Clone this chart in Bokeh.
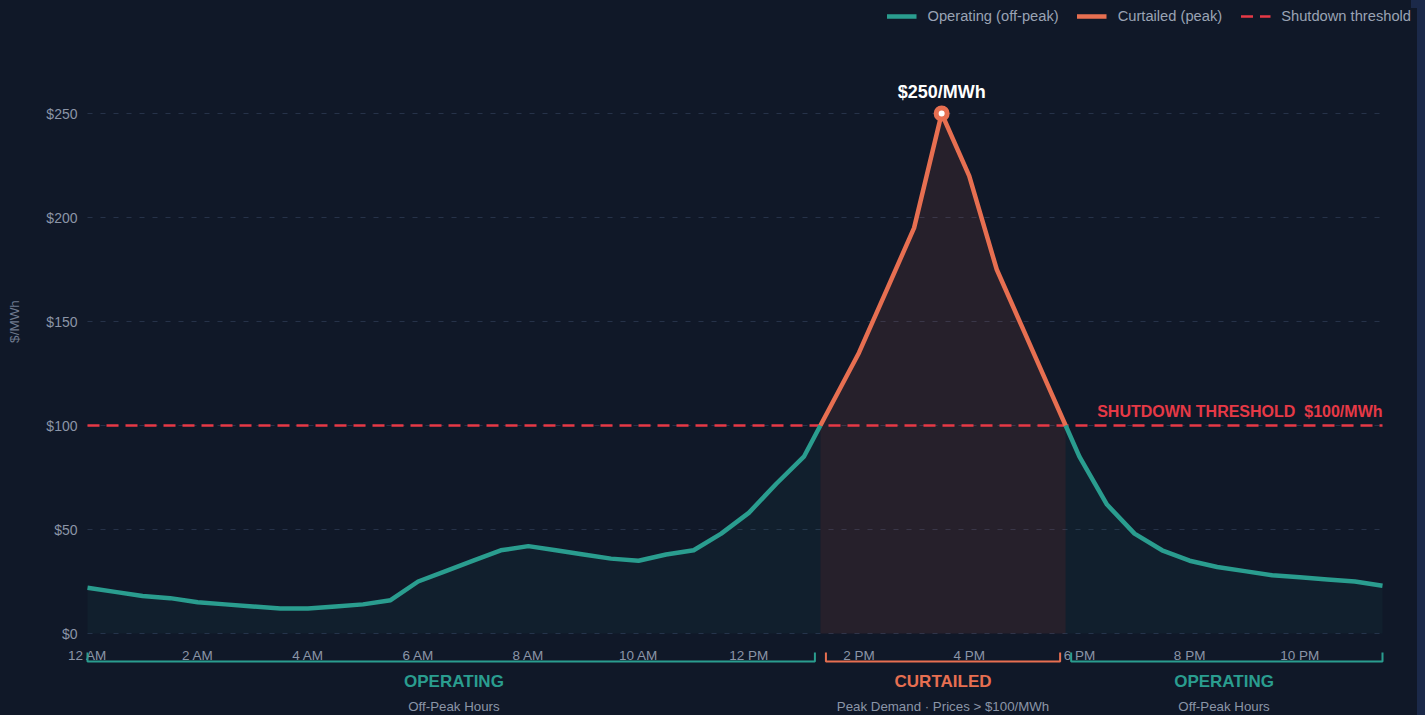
import math
from bokeh.plotting import figure
from bokeh.models import Legend, LegendItem, Range1d
from bokeh.embed import file_html
from bokeh.resources import INLINE
from bokeh.core.properties import value

# ---------------- data ----------------
hours = [h / 2 for h in range(48)]
prices = [22, 20, 18, 17, 15, 14, 13, 12, 12, 13, 14, 16,
          25, 30, 35, 40, 42, 40, 38, 36, 35, 38, 40, 48,
          58, 72, 85, 110, 135, 165, 195, 250, 220, 175, 145, 115,
          85, 62, 48, 40, 35, 32, 30, 28, 27, 26, 25, 23]
threshold = 100
y_ticks = [0, 50, 100, 150, 200, 250]
y_tick_labels = ["$0", "$50", "$100", "$150", "$200", "$250"]
x_tick_hours = [0, 2, 4, 6, 8, 10, 12, 14, 16, 18, 20, 22]
x_tick_labels = ["12 AM", "2 AM", "4 AM", "6 AM", "8 AM", "10 AM",
                 "12 PM", "2 PM", "4 PM", "6 PM", "8 PM", "10 PM"]
y_title = "$/MWh"
legend_labels = ["Operating (off-peak)", "Curtailed (peak)", "Shutdown threshold"]
peak_label = "$250/MWh"
threshold_label = "SHUTDOWN THRESHOLD\u00a0 $100/MWh"
zone_titles = {False: "OPERATING", True: "CURTAILED"}
zone_subtitles = {False: "Off-Peak Hours", True: "Peak Demand \u00b7 Prices > $100/MWh"}

# ---------------- style ----------------
BG = "#101828"
TEAL = "#2a9d8f"
ORANGE = "#e76f51"
RED = "#e63946"
GRID = "#263249"
TICK = "#8b95a7"
FONT = "Liberation Sans"

W, H = 1403, 707
px_per_hour = 1295 / 23.5     # horizontal scale
px_per_usd = 2.08             # vertical scale
x_start = -79 / px_per_hour
x_end = x_start + W / px_per_hour
y_start = -82 / px_per_usd
y_end = y_start + H / px_per_usd

p = figure(width=W, height=H, output_backend="svg", toolbar_location=None,
           x_range=Range1d(x_start, x_end), y_range=Range1d(y_start, y_end),
           x_axis_type=None, y_axis_type=None,
           background_fill_color=BG, border_fill_color=BG,
           outline_line_color=None, min_border_left=0, min_border_right=0,
           min_border_top=0, min_border_bottom=0)
p.grid.visible = False

# gridlines
p.segment(x0=[hours[0]] * len(y_ticks), x1=[hours[-1]] * len(y_ticks),
          y0=y_ticks, y1=y_ticks, line_color=GRID, line_width=1, line_dash="5 8")

# y tick labels
p.text([hours[0]] * len(y_ticks), y_ticks, text=y_tick_labels, text_align="right",
       text_baseline="middle", x_offset=-10, text_color=TICK,
       text_font=value(FONT), text_font_size="14px")

# y title
p.text([-73 / px_per_hour], [(633 - 321) / px_per_usd], text=[y_title],
       angle=math.pi / 2, text_align="center", text_baseline="middle",
       text_color="#6f7a8e", text_font=value(FONT), text_font_size="13.5px")

# split series at threshold crossings
pieces = []
cur_x, cur_y = [hours[0]], [prices[0]]
cur_above = prices[0] > threshold
for i in range(1, len(hours)):
    x0, y0, x1, y1 = hours[i - 1], prices[i - 1], hours[i], prices[i]
    a1 = y1 > threshold
    if a1 != cur_above:
        t = (threshold - y0) / (y1 - y0)
        xc = x0 + t * (x1 - x0)
        cur_x.append(xc)
        cur_y.append(threshold)
        pieces.append((cur_x, cur_y, cur_above))
        cur_x, cur_y = [xc], [threshold]
        cur_above = a1
    cur_x.append(x1)
    cur_y.append(y1)
pieces.append((cur_x, cur_y, cur_above))

for xs, ys, above in pieces:
    col = ORANGE if above else TEAL
    p.varea(x=xs, y1=[0] * len(xs), y2=ys, fill_color=col,
            fill_alpha=0.10 if above else 0.06)

thr_r = p.line([hours[0], hours[-1]], [threshold, threshold], line_color=RED,
               line_width=2.5, line_dash="12 7")

teal_r = None
orange_r = None
for xs, ys, above in pieces:
    col = ORANGE if above else TEAL
    r = p.line(xs, ys, line_color=col, line_width=4.5, line_join="round")
    if above and orange_r is None:
        orange_r = r
    if not above and teal_r is None:
        teal_r = r

# peak
imax = prices.index(max(prices))
p.scatter([hours[imax]], [prices[imax]], size=11, fill_color="white",
          line_color=ORANGE, line_width=5)
p.text([hours[imax]], [prices[imax]], text=[peak_label], text_align="center",
       text_baseline="middle", y_offset=-22, text_color="white",
       text_font=value(FONT), text_font_size="18px", text_font_style="bold")

# threshold label
p.text([hours[-1]], [threshold], text=[threshold_label], text_align="right",
       text_baseline="bottom", y_offset=-6, text_color=RED,
       text_font=value(FONT), text_font_size="16px", text_font_style="bold")

# x tick labels
y_tick_lab = -22 / px_per_usd
p.text(x_tick_hours, [y_tick_lab] * len(x_tick_hours), text=x_tick_labels,
       text_align="center", text_baseline="middle", text_color=TICK,
       text_font=value(FONT), text_font_size="13.5px")

# zone brackets and labels
gap = 0.1
y_br = -28 / px_per_usd
y_br_top = -19 / px_per_usd
y_zone_t = -48 / px_per_usd
y_zone_s = -73 / px_per_usd
for k, (xs, ys, above) in enumerate(pieces):
    col = ORANGE if above else TEAL
    s = xs[0] + (gap if k > 0 else 0)
    e = xs[-1] - (gap if k < len(pieces) - 1 else 0)
    p.line([s, s, e, e], [y_br_top, y_br, y_br, y_br_top], line_color=col,
           line_width=2)
    mid = (xs[0] + xs[-1]) / 2
    p.text([mid], [y_zone_t], text=[zone_titles[above]], text_align="center",
           text_baseline="middle", text_color=col, text_font=value(FONT),
           text_font_size="17px", text_font_style="bold")
    p.text([mid], [y_zone_s], text=[zone_subtitles[above]], text_align="center",
           text_baseline="middle", text_color=TICK, text_font=value(FONT),
           text_font_size="13.3px")

legend = Legend(items=[LegendItem(label=legend_labels[0], renderers=[teal_r]),
                       LegendItem(label=legend_labels[1], renderers=[orange_r]),
                       LegendItem(label=legend_labels[2], renderers=[thr_r])],
                orientation="horizontal", location="top_right",
                background_fill_alpha=0, border_line_color=None,
                label_text_color="#9aa3b4", label_text_font=FONT,
                label_text_font_size="14.7px", glyph_width=30, glyph_height=14,
                label_standoff=11, spacing=18, padding=0, margin=0)
p.add_layout(legend)

html = file_html(p, INLINE)
html = html.replace("</head>",
                    "<style>html,body{background:linear-gradient(to right,#101828 1411px,#1b2949 1411px);margin:0;}"
                    "body{margin:8px;}</style></head>", 1)
open("out.html", "w").write(html)
